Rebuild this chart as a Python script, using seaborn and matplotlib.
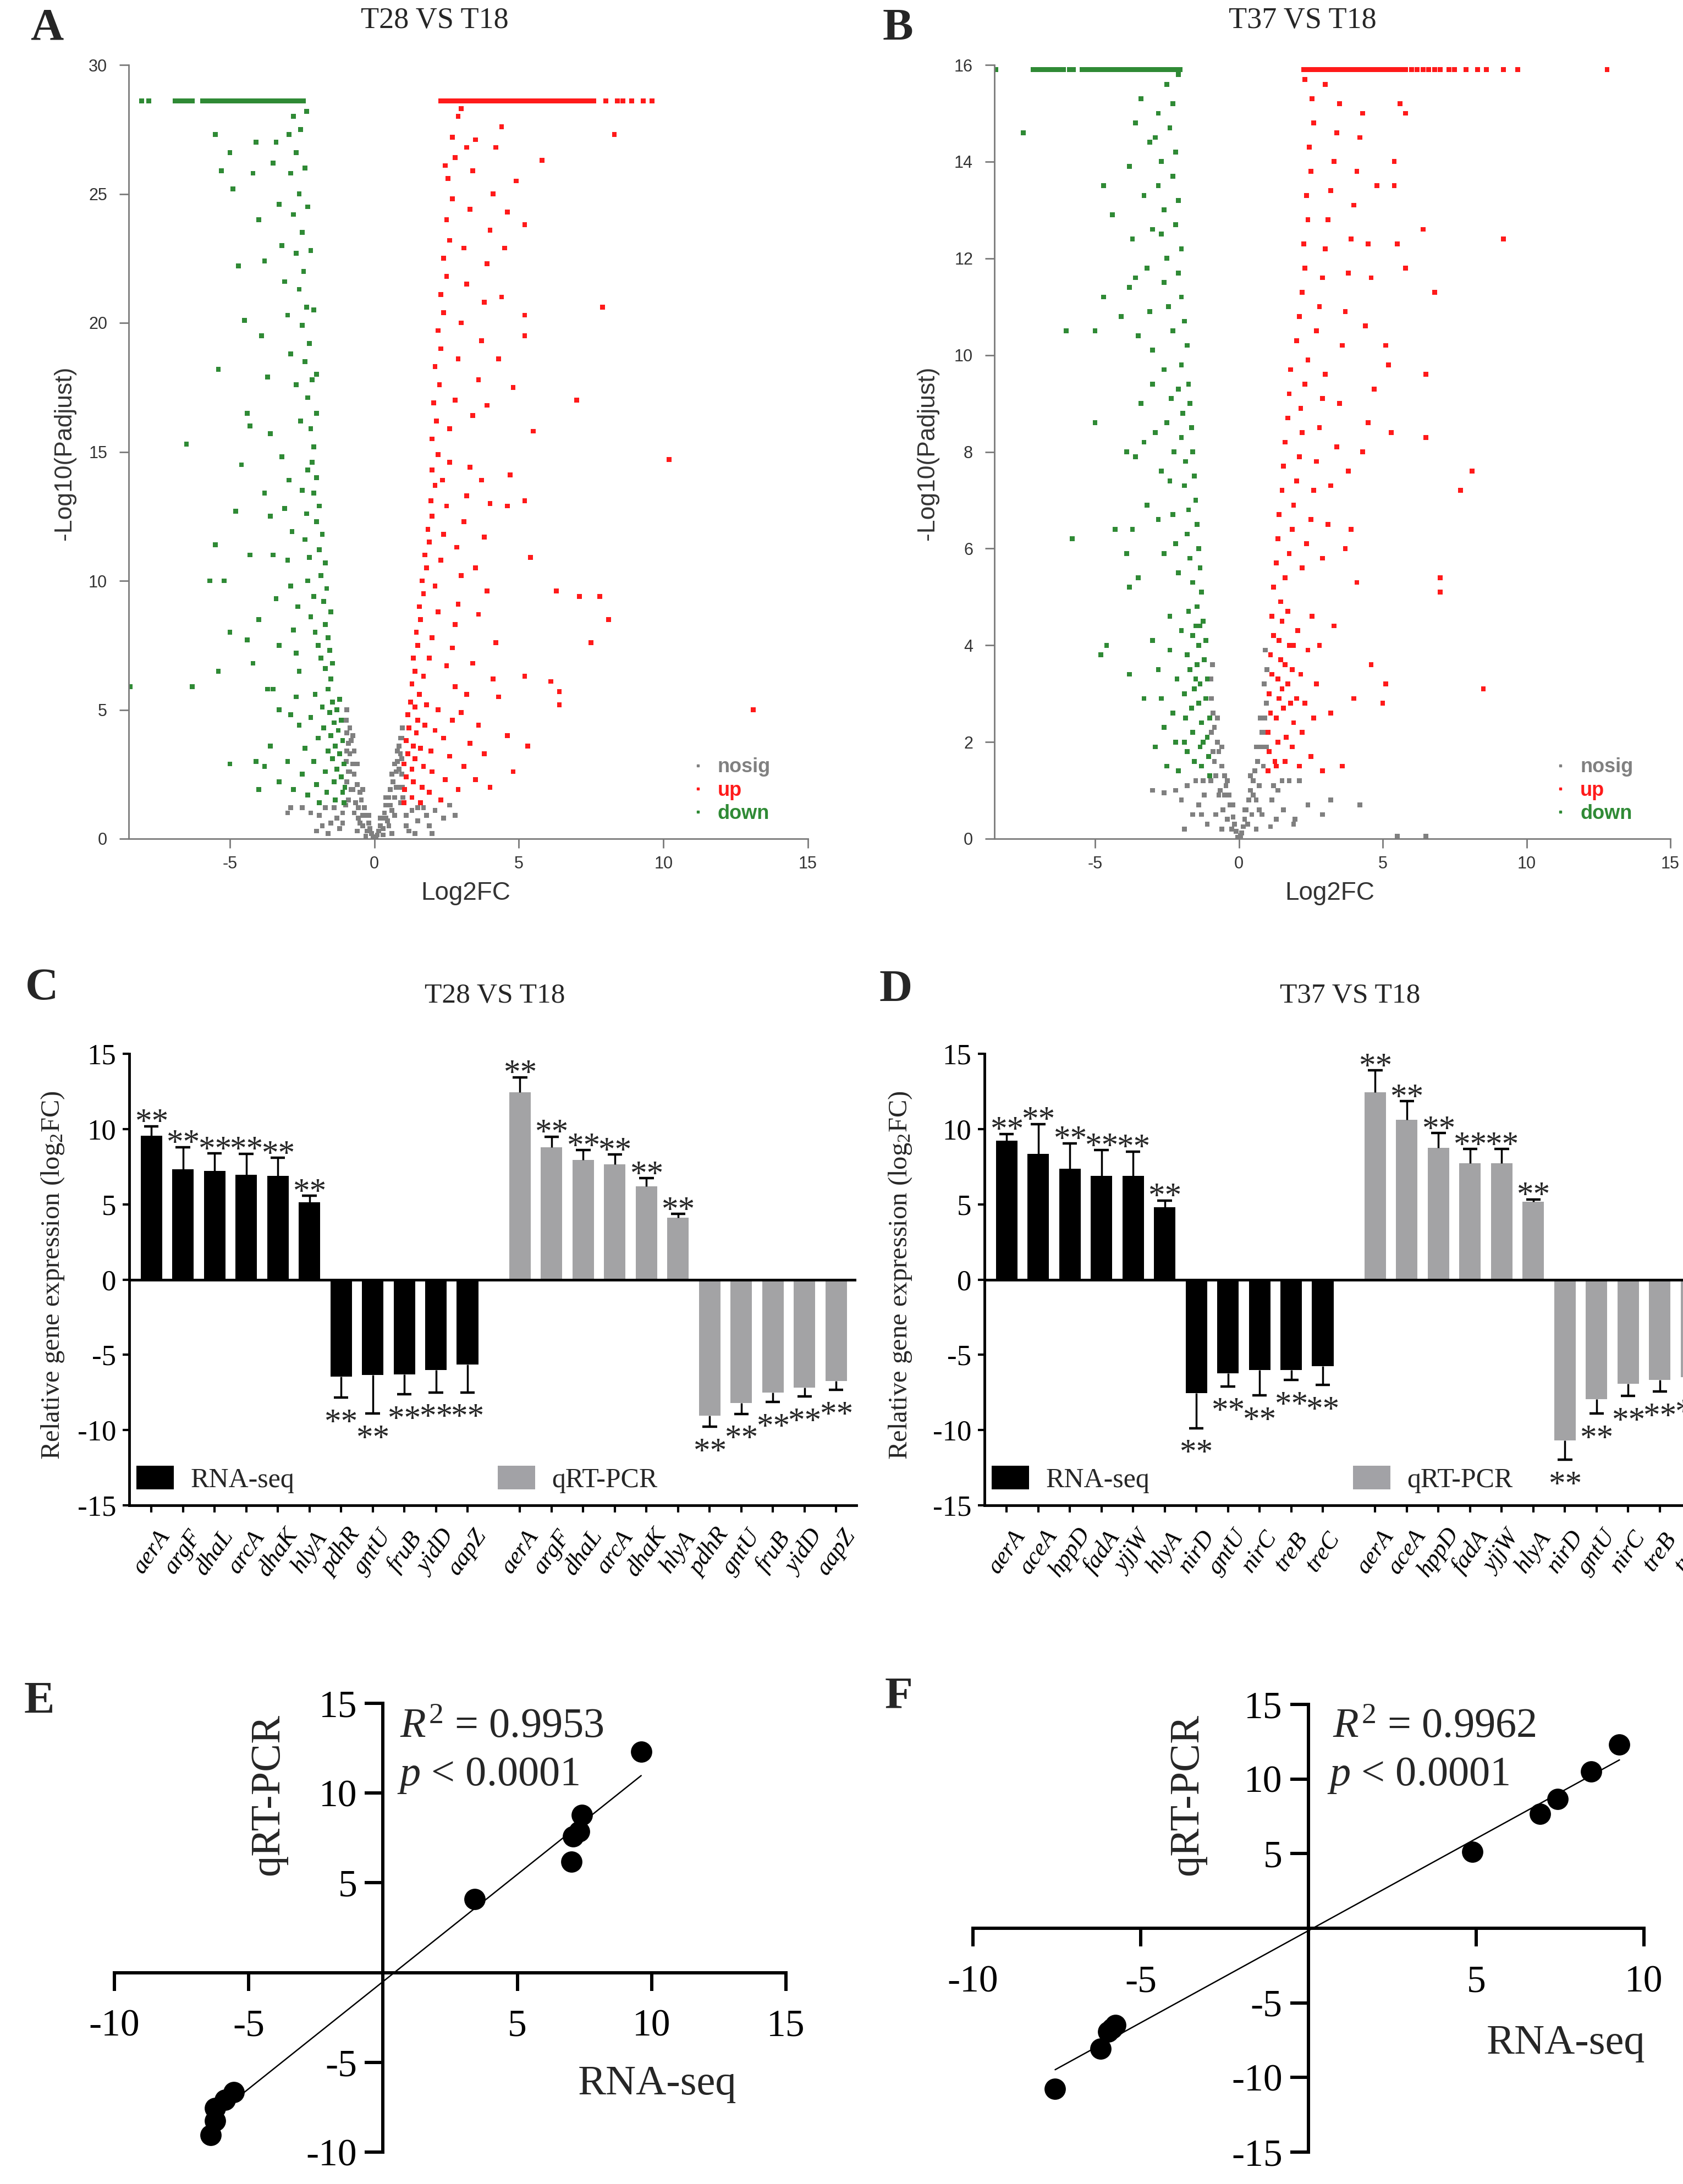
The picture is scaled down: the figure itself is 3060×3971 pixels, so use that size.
import numpy as np
import pandas as pd
import matplotlib
matplotlib.use("Agg")
import matplotlib.pyplot as plt
from matplotlib.lines import Line2D
from matplotlib.patches import Patch
from matplotlib.transforms import ScaledTranslation
import seaborn as sns

# ---------------- data ----------------
# volcano A: T28 VS T18, points as (log2FC, -log10 padj)
A_nosig = [(-0.05,0.05),(0.05,0.08),(-0.1,0.2),(0.1,0.15),(-0.15,0.4),(0.15,0.3),(-0.2,0.6),(0.2,0.5),
           (-0.25,0.3),(0.25,0.8),(-0.3,0.9),(0.3,0.4),(-0.35,1.2),(0.35,1.0),(-0.4,0.5),(0.4,1.3),
           (-0.45,1.5),(0.45,0.7),(-0.5,1.8),(0.5,1.6),(-0.55,0.8),(0.55,1.9),(-0.6,2.1),(0.6,1.1),
           (-0.65,1.4),(0.65,2.2),(-0.7,2.5),(0.7,1.6),(-0.75,2.9),(0.75,2.6),(-0.8,1.9),(0.8,3.0),
           (-0.85,3.3),(0.85,2.0),(-0.9,3.7),(0.9,3.3),(-0.95,4.1),(0.95,2.5),(-0.98,4.6),(-0.9,2.6),
           (-0.8,3.8),(0.85,3.6),(-0.97,3.0),(0.95,3.9),(-1.1,1.0),(1.1,0.9),(-1.3,0.8),(1.3,1.1),
           (-1.5,0.6),(1.5,0.7),(-1.7,1.2),(1.7,1.2),(-1.9,0.9),(1.9,0.5),(-2.2,1.0),(2.1,1.1),
           (-2.5,1.2),(2.4,0.8),(-2.9,1.2),(2.6,1.3),(-3.0,1.0),(-1.2,0.4),(1.2,0.3),(-0.6,0.3),
           (0.6,0.2),(-0.3,0.1),(0.3,0.15),(-1.6,0.2),(1.4,0.2),(-0.7,1.0),(0.7,0.9),(-0.5,0.6),
           (0.5,0.5),(-0.4,0.9),(0.4,0.8),(-0.9,1.5),(0.9,1.4),(-0.96,2.2),(0.97,2.0),(-0.75,4.0),
           (-0.95,5.0),(0.97,4.3),(-0.99,1.3),(0.99,1.6),(-2.0,0.3),(2.0,0.2),(-1.4,1.2),(1.5,1.2),
           (-0.2,0.9),(-0.4,1.9),(-0.6,2.9),(-0.7,3.4),(-0.85,4.3),(0.2,0.8),(0.4,1.6),(0.6,2.5),
           (0.7,2.9),(0.8,3.4),(0.9,3.9),(-0.55,1.2),(0.55,1.3),(-0.75,1.9),(0.75,2.0),(-0.85,2.6),
           (0.85,2.7),(-0.95,3.4),(0.95,3.1),(-1.1,0.6),(1.1,0.5),(-1.8,0.5),(1.8,0.9),(2.8,0.9)]
A_up = [(1.02,1.4),(1.05,1.9),(1.1,2.4),(1.02,2.9),(1.15,3.3),(1.1,3.8),(1.2,4.3),(1.15,4.8),(1.25,5.3),
        (1.3,1.6),(1.35,2.2),(1.3,2.7),(1.4,3.1),(1.35,3.6),(1.45,4.1),(1.5,4.6),(1.4,5.1),(1.55,5.6),
        (1.6,1.4),(1.65,2.0),(1.7,2.8),(1.6,3.5),(1.75,4.4),(1.8,5.2),(1.9,1.8),(2.0,2.6),(1.95,3.4),
        (2.1,4.2),(2.2,5.0),(2.3,1.5),(2.45,2.3),(2.6,3.2),(2.4,3.9),(2.7,4.6),(2.9,1.9),(3.1,2.8),
        (3.3,3.7),(3.0,4.9),(3.5,2.3),(3.8,3.3),(4.0,2.0),(3.6,4.4),(3.2,5.6),(2.8,5.9),(4.3,5.5),
        (1.3,6.0),(1.4,6.5),(1.35,7.0),(1.5,7.5),(1.45,8.0),(1.6,8.5),(1.55,9.0),(1.7,9.5),(1.65,10.0),
        (1.8,10.5),(1.75,11.0),(1.9,11.5),(1.85,12.0),(2.0,12.5),(1.95,13.1),(2.1,13.7),(2.0,14.3),
        (2.2,14.9),(1.7,6.3),(1.9,7.0),(2.0,7.8),(2.2,8.8),(2.1,9.8),(2.3,10.8),(2.4,11.8),(2.5,12.9),
        (2.35,13.9),(2.6,14.6),(2.5,6.7),(2.7,7.4),(2.8,8.3),(2.9,9.1),(3.0,10.2),(2.85,11.3),(3.1,12.3),
        (3.2,13.3),(3.3,14.4),(3.4,6.8),(3.6,8.7),(3.5,10.5),(3.8,11.7),(3.9,9.6),(4.0,13.0),(4.2,7.6),
        (4.1,6.2),(3.7,13.9),(2.0,15.5),(2.15,16.2),(2.05,16.9),(2.25,17.6),(2.1,18.3),(2.3,19.0),
        (2.2,19.7),(2.4,20.4),(2.3,21.1),(2.5,21.8),(2.4,22.5),(2.6,23.2),(2.5,24.0),(2.7,24.8),
        (2.55,25.6),(2.8,26.4),(2.7,27.2),(2.9,28.0),(2.6,15.9),(2.8,17.0),(2.9,18.6),(3.0,20.0),
        (3.2,21.5),(3.1,22.9),(3.3,24.4),(3.4,25.9),(3.5,27.1),(3.4,16.4),(3.6,17.8),(3.7,19.3),
        (3.8,20.8),(3.9,22.3),(4.0,23.6),(4.1,25.0),(4.2,26.8),(3.9,16.8),(4.3,18.6),(4.4,21.0),
        (4.5,22.9),(4.6,24.3),(4.4,27.6),(3.2,26.8),(2.45,26.1),(3.0,28.3),
        (10.2,14.7),(13.1,5.0),(8.3,27.3),(7.9,20.6),(7.0,17.0),(7.1,9.4),(7.8,9.4),(8.1,8.5),
        (7.5,7.6),(6.3,9.6),(6.4,5.2),(6.4,5.7),(6.1,6.1),(5.2,6.3),(5.3,3.6),(4.8,2.6),(4.6,4.0),
        (5.4,10.9),(5.2,13.1),(5.5,15.8),(5.2,19.5),(5.2,20.3),(5.2,23.8),(5.8,26.3),(4.8,17.5),
        (4.9,25.5),(4.7,14.1),(4.6,12.9)]
A_down = [(-1.05,1.4),(-1.1,1.8),(-1.02,2.0),(-1.15,2.4),(-1.05,2.9),(-1.2,3.3),(-1.1,3.8),(-1.25,4.2),
          (-1.15,4.6),(-1.3,5.0),(-1.2,5.4),(-1.35,1.5),(-1.4,2.2),(-1.3,2.7),(-1.45,3.1),(-1.35,3.6),
          (-1.5,4.0),(-1.4,4.5),(-1.55,4.9),(-1.45,5.3),(-1.6,5.8),(-1.5,6.2),(-1.65,1.8),(-1.7,2.6),
          (-1.6,3.4),(-1.75,4.3),(-1.8,5.1),(-1.7,6.6),(-1.85,7.0),(-1.9,1.4),(-2.0,2.1),(-2.1,3.0),
          (-1.95,3.9),(-2.2,4.7),(-2.05,5.6),(-2.3,1.7),(-2.5,2.5),(-2.4,3.5),(-2.6,4.4),(-2.8,1.9),
          (-3.0,3.0),(-2.9,4.8),(-3.3,2.2),(-3.6,3.6),(-3.8,2.8),(-4.0,1.9),(-4.1,3.0),(-5.0,2.9),
          (-3.5,5.8),(-3.3,5.0),(-2.7,5.5),(-1.45,6.8),(-1.55,7.3),(-1.6,7.8),(-1.7,8.3),(-1.5,8.8),
          (-1.75,9.2),(-1.65,9.7),(-1.85,10.2),(-1.7,10.7),(-1.9,11.2),(-1.8,11.8),(-2.0,12.3),
          (-1.9,12.9),(-2.1,13.4),(-2.0,14.0),(-2.15,14.6),(-1.95,7.5),(-2.05,8.0),(-2.2,8.6),
          (-2.1,9.4),(-2.3,10.0),(-2.25,10.9),(-2.4,11.6),(-2.35,12.6),(-2.5,13.5),(-2.3,14.3),
          (-2.6,6.5),(-2.7,7.2),(-2.8,8.1),(-2.65,9.0),(-2.9,9.8),(-3.0,10.8),(-2.85,11.9),(-3.1,12.8),
          (-2.95,13.9),(-3.2,14.8),(-3.3,7.5),(-3.4,9.3),(-3.5,11.0),(-3.6,12.5),(-3.8,13.4),(-4.0,8.5),
          (-4.3,11.0),(-4.4,7.7),(-5.0,8.0),(-5.2,10.0),(-5.5,11.4),(-5.7,10.0),(-4.6,14.5),(-4.8,12.7),
          (-6.5,15.3),(-6.3,5.9),(-8.45,5.9),(-5.4,6.5),(-4.2,6.8),(-3.7,5.8),(-2.1,15.2),(-2.2,15.9),
          (-2.0,16.5),(-2.3,17.1),(-2.15,17.8),(-2.4,18.5),(-2.25,19.2),(-2.5,19.9),(-2.35,20.6),
          (-2.6,21.3),(-2.45,22.0),(-2.7,22.7),(-2.5,23.5),(-2.8,24.2),(-2.6,25.0),(-2.9,25.8),
          (-2.7,26.6),(-2.95,27.3),(-2.8,28.0),(-2.55,16.2),(-2.7,17.6),(-2.9,18.8),(-3.0,20.3),
          (-3.1,21.6),(-3.2,23.0),(-3.3,24.6),(-3.5,26.2),(-3.4,27.0),(-3.6,15.7),(-3.7,17.9),
          (-3.9,19.5),(-3.8,22.4),(-4.0,24.0),(-4.2,25.8),(-4.1,27.0),(-4.4,16.5),(-4.5,20.1),
          (-4.7,22.2),(-4.9,25.2),(-5.0,26.6),(-5.3,25.9),(-5.5,27.3),(-5.4,18.2),(-4.3,16.0),
          (-2.4,26.0),(-2.3,24.5),(-2.2,22.8),(-2.1,20.5),(-2.0,18.0),(-2.35,28.2),(-2.55,27.5)]
A_cap_y = 28.6
A_cap_down = [-8.05, -7.8, -6.9, -6.8, -6.7, -6.6, -6.5, -6.4, -6.3, -5.95, -5.85, -5.75, -5.65, -5.55,
              -5.45, -5.35, -5.25, -5.15, -5.05, -4.95, -4.85, -4.75, -4.65, -4.55, -4.45, -4.35, -4.25,
              -4.15, -4.05, -3.95, -3.85, -3.75, -3.65, -3.55, -3.45, -3.35, -3.25, -3.15, -3.05, -2.95,
              -2.85, -2.75, -2.65, -2.55, -2.45]
A_cap_up = [2.3, 2.4, 2.5, 2.6, 2.7, 2.8, 2.9, 3.0, 3.1, 3.2, 3.3, 3.4, 3.5, 3.6, 3.7, 3.8, 3.9, 4.0,
            4.1, 4.2, 4.3, 4.4, 4.5, 4.6, 4.7, 4.8, 4.9, 5.0, 5.1, 5.2, 5.3, 5.4, 5.5, 5.6, 5.7, 5.8,
            5.9, 6.0, 6.1, 6.2, 6.3, 6.4, 6.5, 6.6, 6.7, 6.8, 6.9, 7.0, 7.15, 7.3, 7.45, 7.6, 8.0,
            8.4, 8.6, 8.9, 9.3, 9.6]

# volcano B: T37 VS T18
B_nosig = [(-0.05,0.03),(0.05,0.06),(-0.1,0.15),(0.1,0.12),(-0.15,0.3),(0.15,0.25),(-0.2,0.45),(0.2,0.4),
           (-0.25,0.2),(0.25,0.6),(-0.3,0.7),(0.3,0.3),(-0.35,0.9),(0.35,0.8),(-0.4,0.4),(0.4,1.0),
           (-0.45,1.1),(0.45,0.5),(-0.5,1.3),(0.5,1.2),(-0.55,0.6),(0.55,1.4),(-0.6,1.5),(0.6,0.8),
           (-0.65,1.0),(0.65,1.6),(-0.7,1.8),(0.7,1.1),(-0.75,2.0),(0.75,1.9),(-0.8,1.3),(0.8,2.2),
           (-0.85,2.3),(0.85,1.5),(-0.9,2.6),(0.9,2.5),(-0.95,2.9),(0.95,1.9),(-0.98,1.2),(0.95,2.8),
           (-0.9,1.8),(0.88,3.2),(-0.97,3.3),(0.98,3.5),(-1.2,0.9),(1.15,0.8),(-1.4,0.7),(1.35,1.0),
           (-1.6,0.5),(1.55,0.6),(-1.8,1.1),(1.75,1.2),(-2.0,0.8),(1.95,0.4),(-2.2,1.0),(2.1,1.2),
           (-2.6,0.95),(2.4,0.7),(-3.0,1.0),(2.9,0.5),(3.2,0.8),(4.2,0.7),(-1.1,0.3),(1.1,0.25),
           (-0.6,0.2),(0.6,0.2),(-1.5,1.2),(1.5,1.2),(-0.8,0.5),(0.8,0.5),(-1.25,1.2),(1.2,1.1),
           (-0.7,0.9),(0.7,0.6),(-1.9,0.2),(1.9,0.3),(6.5,0.05),(5.5,0.05),(-0.2,0.7),(-0.4,1.2),
           (-0.6,1.9),(-0.75,2.5),(-0.92,3.6),(0.2,0.6),(0.4,1.3),(0.6,1.9),(0.75,2.5),(0.92,3.9),
           (-0.5,0.9),(0.5,0.9),(-0.85,1.6),(0.85,1.9),(-0.95,2.2),(0.95,2.2),(-1.3,0.5),(1.3,0.4)]
B_up = [(1.02,1.4),(1.05,1.8),(1.02,2.2),(1.1,2.6),(1.05,3.0),(1.15,3.4),(1.1,3.8),(1.2,4.2),(1.15,4.6),
        (1.3,1.5),(1.35,2.0),(1.3,2.5),(1.4,2.9),(1.35,3.3),(1.45,3.7),(1.4,4.1),(1.5,4.5),(1.45,4.9),
        (1.6,1.6),(1.65,2.1),(1.55,2.7),(1.7,3.2),(1.6,3.6),(1.75,4.0),(1.7,4.7),(1.85,1.9),(1.9,2.4),
        (2.0,2.9),(1.85,3.5),(2.05,4.3),(2.1,1.5),(2.2,2.2),(2.3,2.8),(2.15,3.4),(2.4,3.9),(2.5,1.7),
        (2.6,2.5),(2.7,3.2),(2.8,4.0),(2.55,4.6),(3.2,2.6),(3.6,1.5),(4.0,2.9),(5.0,2.8),(5.1,3.2),
        (4.6,3.6),(3.3,4.4),(2.9,1.4),(1.2,5.2),(1.3,5.7),(1.35,6.2),(1.4,6.7),(1.5,7.2),(1.55,7.7),
        (1.6,8.2),(1.7,8.7),(1.75,9.2),(1.8,9.7),(1.6,5.4),(1.75,5.9),(1.85,6.4),(1.9,6.9),(2.0,7.4),
        (2.1,7.9),(2.2,8.4),(2.15,8.9),(2.3,9.4),(2.4,9.9),(2.2,5.6),(2.35,6.1),(2.5,6.6),(2.6,7.2),
        (2.7,7.8),(2.8,8.5),(2.9,9.1),(3.0,9.6),(2.9,5.8),(3.1,6.5),(3.2,7.3),(3.4,8.1),(3.5,9.0),
        (3.7,6.0),(3.9,6.4),(4.1,5.3),(3.8,7.6),(4.3,8.0),(4.5,8.6),(4.7,9.3),(5.3,8.4),(5.2,9.8),
        (6.5,9.6),(6.5,8.3),(7.7,7.2),(8.1,7.6),(7.0,5.4),(7.0,5.1),(2.0,10.3),(2.1,10.8),(2.2,11.3),
        (2.3,11.8),(2.25,12.3),(2.4,12.8),(2.35,13.3),(2.5,13.8),(2.45,14.3),(2.6,14.8),(2.55,15.3),
        (2.7,10.5),(2.8,11.0),(2.9,11.6),(3.0,12.2),(3.1,12.8),(3.2,13.4),(3.3,14.0),(3.4,14.6),
        (3.5,15.2),(3.6,10.2),(3.7,10.9),(3.8,11.7),(3.9,12.4),(4.0,13.1),(4.1,13.8),(4.2,14.5),
        (4.3,15.0),(4.4,10.6),(4.6,11.6),(4.5,12.3),(4.8,13.5),(5.1,10.2),(5.5,12.3),(5.4,13.5),
        (5.4,14.0),(5.6,15.2),(5.8,15.0),(5.8,11.8),(6.4,12.6),(6.8,11.3),(9.2,12.4),(2.3,15.7),
        (3.0,15.6),(8.5,3.1),(1.25,1.6),(1.5,3.1),(1.8,2.8),(1.9,4.0)]
B_down = [(-1.02,1.3),(-1.05,1.7),(-1.1,2.1),(-1.02,2.5),(-1.15,2.9),(-1.1,3.3),(-1.2,3.7),(-1.15,4.1),
          (-1.25,4.5),(-1.3,1.5),(-1.35,1.9),(-1.3,2.4),(-1.4,2.8),(-1.35,3.2),(-1.45,3.6),(-1.4,4.0),
          (-1.5,4.4),(-1.45,4.8),(-1.55,1.6),(-1.6,2.2),(-1.65,2.7),(-1.55,3.1),(-1.7,3.5),(-1.6,4.2),
          (-1.75,4.7),(-1.8,1.8),(-1.85,2.5),(-1.9,3.0),(-1.8,3.8),(-2.0,4.3),(-2.1,1.4),(-2.2,2.0),
          (-2.3,2.6),(-2.15,3.3),(-2.4,3.9),(-2.5,1.5),(-2.6,2.3),(-2.7,2.9),(-2.8,3.5),(-2.4,4.6),
          (-3.3,2.9),(-3.0,4.1),(-2.9,1.9),(-3.8,3.4),(-4.6,4.0),(-4.8,3.8),(-1.3,5.1),(-1.35,5.6),
          (-1.4,6.0),(-1.45,6.5),(-1.5,7.0),(-1.55,7.5),(-1.6,8.0),(-1.65,8.5),(-1.7,9.0),(-1.75,9.4),
          (-1.6,5.3),(-1.7,5.8),(-1.8,6.3),(-1.75,6.8),(-1.9,7.3),(-1.85,7.8),(-2.0,8.3),(-1.95,8.8),
          (-2.1,9.3),(-2.0,9.8),(-2.1,5.5),(-2.2,6.1),(-2.3,6.7),(-2.4,7.4),(-2.25,8.0),(-2.5,8.6),
          (-2.35,9.1),(-2.6,9.7),(-2.6,5.9),(-2.8,6.6),(-2.7,7.6),(-2.9,8.4),(-3.0,9.4),(-3.2,6.9),
          (-3.3,8.2),(-3.4,9.0),(-3.6,7.9),(-3.9,8.0),(-3.7,6.4),(-3.9,5.9),(-3.8,5.2),(-4.3,6.4),
          (-5.0,8.6),(-5.8,6.2),(-3.5,5.4),(-1.8,10.2),(-1.9,10.7),(-2.0,11.2),(-2.1,11.7),(-2.0,12.2),
          (-2.2,12.7),(-2.1,13.2),(-2.3,13.7),(-2.2,14.2),(-2.4,14.7),(-2.3,15.2),(-2.5,15.6),
          (-2.3,10.5),(-2.45,11.0),(-2.6,11.5),(-2.5,12.0),(-2.7,12.5),(-2.6,13.0),(-2.8,13.5),
          (-2.7,14.0),(-2.9,14.5),(-2.8,15.0),(-3.0,10.1),(-3.1,10.9),(-3.2,11.8),(-3.0,12.6),
          (-3.3,13.3),(-3.1,14.4),(-3.4,15.3),(-3.5,10.4),(-3.6,11.6),(-3.7,12.4),(-3.8,13.9),
          (-3.6,14.8),(-4.1,10.8),(-3.8,11.4),(-4.4,12.9),(-4.7,13.5),(-4.7,11.2),(-5.0,10.5),
          (-6.0,10.5),(-7.5,14.6),(-2.1,15.8),(-1.25,2.0),(-1.5,3.3),(-1.9,2.0),(-1.35,4.4)]
B_cap_y = 15.9
B_cap_down = [-8.45, -7.15, -7.0, -6.85, -6.7, -6.55, -6.4, -6.25, -6.1, -5.9, -5.75, -5.45, -5.35,
              -5.25, -5.15, -5.05, -4.95, -4.85, -4.75, -4.65, -4.55, -4.45, -4.35, -4.25, -4.15, -4.05,
              -3.95, -3.85, -3.75, -3.65, -3.55, -3.45, -3.35, -3.25, -3.15, -3.05, -2.95, -2.85, -2.75,
              -2.65, -2.55, -2.45, -2.35, -2.25, -2.15, -2.05]
B_cap_up = [2.25, 2.35, 2.45, 2.55, 2.65, 2.75, 2.85, 2.95, 3.05, 3.15, 3.25, 3.35, 3.45, 3.55, 3.65,
            3.75, 3.85, 3.95, 4.05, 4.15, 4.25, 4.35, 4.45, 4.55, 4.65, 4.75, 4.85, 4.95, 5.05, 5.15,
            5.25, 5.35, 5.45, 5.55, 5.65, 5.8, 6.0, 6.2, 6.4, 6.6, 6.8, 7.0, 7.3, 7.5, 7.9, 8.3, 8.6,
            9.2, 9.7, 12.8]

# bar panels C / D (bar value and end of the error bar)
genes_C = ['aerA', 'argF', 'dhaL', 'arcA', 'dhaK', 'hlyA', 'pdhR', 'gntU', 'fruB', 'yidD', 'aapZ']
C_rna = [9.54, 7.33, 7.2, 6.95, 6.9, 5.15, -6.45, -6.35, -6.3, -6.0, -5.65]
C_rna_err = [10.18, 8.8, 8.38, 8.36, 8.08, 5.56, -7.85, -8.9, -7.62, -7.5, -7.5]
C_qpcr = [12.44, 8.77, 7.95, 7.64, 6.2, 4.1, -9.05, -8.22, -7.52, -7.17, -6.75]
C_qpcr_err = [13.44, 9.5, 8.6, 8.31, 6.74, 4.35, -9.78, -8.92, -8.13, -7.78, -7.33]

genes_D = ['aerA', 'aceA', 'hppD', 'fadA', 'yjjW', 'hlyA', 'nirD', 'gntU', 'nirC', 'treB', 'treC']
D_rna = [9.23, 8.36, 7.36, 6.87, 6.87, 4.82, -7.56, -6.23, -6.0, -6.0, -5.77]
D_rna_err = [9.67, 10.33, 9.05, 8.59, 8.5, 5.26, -9.87, -7.1, -7.69, -6.67, -7.0]
D_qpcr = [12.44, 10.62, 8.74, 7.74, 7.74, 5.18, -10.69, -7.95, -6.92, -6.67, -6.5]
D_qpcr_err = [13.9, 11.85, 9.74, 8.67, 8.67, 5.33, -11.97, -8.9, -7.74, -7.44, -7.2]

# correlation panels E / F
E_rna = [9.61, 7.41, 7.31, 7.08, 7.02, 3.42, -5.56, -5.89, -6.25, -6.25, -6.41]
E_qpcr = [12.3, 8.78, 7.87, 7.58, 6.17, 4.09, -6.65, -7.1, -7.55, -8.24, -9.04]
F_rna = [9.27, 8.42, 7.43, 6.9, 4.89, -7.55, -6.2, -5.96, -5.75, -5.85]
F_qpcr = [12.3, 10.5, 8.67, 7.66, 5.12, -10.75, -8.07, -6.92, -6.5, -6.7]

# ---------------- style ----------------
sns.set_theme(style="ticks")
SERIF = ['Liberation Serif', 'DejaVu Serif']
SANS = ['Liberation Sans', 'DejaVu Sans']
plt.rcParams['font.family'] = SERIF
plt.rcParams['mathtext.fontset'] = 'custom'
plt.rcParams['mathtext.rm'] = 'Liberation Serif'
plt.rcParams['mathtext.it'] = 'Liberation Serif:italic'
plt.rcParams['mathtext.bf'] = 'Liberation Serif:bold'
plt.rcParams['axes.unicode_minus'] = False

VOLC_PAL = {'nosig': '#808080', 'up': '#ff1a1a', 'down': '#2f8a35'}
BAR_PAL = {'RNA-seq': '#000000', 'qRT-PCR': '#a2a2a6'}
GAP = 11.66   # offset of the qRT-PCR group on the bar axis

W, H = 3060, 3971
fig = plt.figure(figsize=(W / 100, H / 100), dpi=100)


def px_box(x0, y0, x1, y1):
    return [x0 / W, 1 - y1 / H, (x1 - x0) / W, (y1 - y0) / H]


def ftext(x, y, s, **kw):
    fig.text(x / W, 1 - y / H, s, **kw)


def volcano(ax, nosig, up, down, cap_y, cap_down, cap_up, ymax, ystep):
    rows = [(x, y, 'nosig') for x, y in nosig]
    rows += [(x, y, 'up') for x, y in up] + [(x, cap_y, 'up') for x in cap_up]
    rows += [(x, y, 'down') for x, y in down] + [(x, cap_y, 'down') for x in cap_down]
    df = pd.DataFrame(rows, columns=['log2fc', 'padj', 'group'])
    sns.scatterplot(data=df, x='log2fc', y='padj', hue='group', palette=VOLC_PAL,
                    marker='s', s=40, linewidth=0, legend=False, ax=ax)
    ax.set_xlim(-8.5, 15)
    ax.set_ylim(0, ymax)
    ax.set_xticks([-5, 0, 5, 10, 15])
    ax.set_yticks(np.arange(0, ymax + 0.1, ystep))
    ax.set_xlabel('')
    ax.set_ylabel('')
    sns.despine(ax=ax)
    for s in ['left', 'bottom']:
        ax.spines[s].set_color('#7a7a7a')
        ax.spines[s].set_linewidth(2)
    ax.tick_params(axis='both', colors='#7a7a7a', width=2, length=12, labelcolor='#333333',
                   labelsize=22)
    ax.tick_params(axis='y', pad=16)
    ax.tick_params(axis='x', pad=10)
    for lab in ax.get_xticklabels() + ax.get_yticklabels():
        lab.set_family(SANS)
    handles = [Line2D([], [], ls='', marker='s', ms=3, color=VOLC_PAL[k]) for k in VOLC_PAL]
    ax.legend(handles, list(VOLC_PAL), loc='lower right', bbox_to_anchor=(0.945, 0.02),
              frameon=False, handlelength=1.0, handletextpad=0.5, labelspacing=0.2,
              borderpad=0, borderaxespad=0, labelcolor=list(VOLC_PAL.values()),
              prop={'family': SANS, 'weight': 'bold', 'size': 26})


def bars(ax, genes, rna, rna_err, qpcr, qpcr_err):
    n = len(genes)
    pos = list(np.arange(n)) + list(np.arange(n) + GAP)
    vals = rna + qpcr
    ends = rna_err + qpcr_err
    df = pd.DataFrame({'pos': pos, 'value': vals, 'method': ['RNA-seq'] * n + ['qRT-PCR'] * n})
    sns.barplot(data=df, x='pos', y='value', hue='method', palette=BAR_PAL, native_scale=True,
                dodge=False, width=0.68, errorbar=None, linewidth=0, legend=False, ax=ax)
    ax.vlines(pos, vals, ends, color='black', lw=2.5, zorder=3)
    ax.hlines(ends, np.array(pos) - 0.23, np.array(pos) + 0.23, color='black', lw=3.2, zorder=3)
    for x, e in zip(pos, ends):
        y = e - 0.35 if e > 0 else e - 2.25
        ax.text(x, y, '**', ha='center', va='baseline', fontsize=44, family=SERIF)
    ax.axhline(0, color='black', lw=3.5, zorder=4)
    ax.set_xlim(-0.7, 22.3)
    ax.set_ylim(-15, 15)
    ax.set_yticks([-15, -10, -5, 0, 5, 10, 15])
    ax.set_xticks(pos)
    ax.set_xticklabels(genes + genes, rotation=55, ha='center', va='center',
                       rotation_mode='anchor', fontsize=32, style='italic', family=SERIF)
    shift = ScaledTranslation(-0.33, 0, fig.dpi_scale_trans)
    for lab in ax.get_xticklabels():
        lab.set_transform(lab.get_transform() + shift)
    ax.set_xlabel('')
    ax.set_ylabel('')
    sns.despine(ax=ax)
    for s in ['left', 'bottom']:
        ax.spines[s].set_color('black')
        ax.spines[s].set_linewidth(3.5)
    ax.tick_params(axis='both', colors='black', width=3, length=9)
    ax.tick_params(axis='y', labelsize=38, pad=8)
    ax.tick_params(axis='x', pad=52)
    for lab in ax.get_yticklabels():
        lab.set_family(SERIF)
    handles = [Patch(facecolor=BAR_PAL[k], edgecolor='none') for k in BAR_PAL]
    ax.legend(handles, list(BAR_PAL), loc='center left', bbox_to_anchor=(0.01, 0.057), ncol=2,
              frameon=False, handlelength=1.36, handleheight=0.94, handletextpad=0.6,
              columnspacing=7.4, borderpad=0, borderaxespad=0,
              prop={'family': SERIF, 'size': 36})


def corr(ax, x, y, xlim, ylim, xt, yt):
    sns.regplot(x=np.array(x), y=np.array(y), ci=None, color='black', ax=ax,
                scatter_kws={'s': 780, 'linewidths': 0, 'alpha': 1},
                line_kws={'lw': 1.8})
    ax.set_xlim(*xlim)
    ax.set_ylim(*ylim)
    ax.spines['left'].set_position(('data', 0))
    ax.spines['bottom'].set_position(('data', 0))
    ax.spines['top'].set_visible(False)
    ax.spines['right'].set_visible(False)
    for s in ['left', 'bottom']:
        ax.spines[s].set_linewidth(4.3)
        ax.spines[s].set_color('black')
    ax.set_xticks(xt)
    ax.set_yticks(yt)
    ax.tick_params(axis='both', colors='black', width=4.3, length=24, labelsize=50)
    ax.tick_params(axis='x', pad=24)
    ax.tick_params(axis='y', pad=10)
    for lab in ax.get_xticklabels() + ax.get_yticklabels():
        lab.set_family(SERIF)
    ax.set_xlabel('')
    ax.set_ylabel('')


# ---------------- A / B ----------------
axA = fig.add_axes(px_box(234, 118, 1469, 1525))
volcano(axA, A_nosig, A_up, A_down, A_cap_y, A_cap_down, A_cap_up, 30, 5)
axB = fig.add_axes(px_box(1808, 118, 3037, 1525))
volcano(axB, B_nosig, B_up, B_down, B_cap_y, B_cap_down, B_cap_up, 16, 2)

ftext(790, 38, 'T28 VS T18', ha='center', va='center', fontsize=39, family=SERIF)
ftext(2368, 38, 'T37 VS T18', ha='center', va='center', fontsize=39, family=SERIF)
for xc in [847, 2418]:
    ftext(xc, 1624, 'Log2FC', ha='center', va='center', fontsize=33, family=SANS, color='#333333')
for xc in [117, 1686]:
    ftext(xc, 824, '-Log10(Padjust)', ha='center', va='center', rotation=90, fontsize=32,
          family=SANS, color='#333333')

# ---------------- C / D ----------------
axC = fig.add_axes(px_box(235, 1916, 1557, 2737))
bars(axC, genes_C, C_rna, C_rna_err, C_qpcr, C_qpcr_err)
axD = fig.add_axes(px_box(1790, 1916, 3112, 2737))
bars(axD, genes_D, D_rna, D_rna_err, D_qpcr, D_qpcr_err)

ftext(900, 1811, 'T28 VS T18', ha='center', va='center', fontsize=37, family=SERIF)
ftext(2455, 1811, 'T37 VS T18', ha='center', va='center', fontsize=37, family=SERIF)
for xc in [96, 1637]:
    ftext(xc, 2319, 'Relative gene expression (log$_2$FC)', ha='center', va='center',
          rotation=90, fontsize=35, family=SERIF)

# ---------------- E / F ----------------
axE = fig.add_axes(px_box(208, 3097, 1429, 3913))
corr(axE, E_rna, E_qpcr, (-10, 15), (-10, 15), [-10, -5, 5, 10, 15], [-10, -5, 5, 10, 15])
axF = fig.add_axes(px_box(1769, 3099, 2989, 3913))
corr(axF, F_rna, F_qpcr, (-10, 10), (-15, 15), [-10, -5, 5, 10], [-15, -10, -5, 5, 10, 15])

ftext(727, 3140, r'$R^{2}$ = 0.9953', ha='left', va='center', fontsize=55, family=SERIF)
ftext(722, 3229, '$p$ < 0.0001', ha='left', va='center', fontsize=55, family=SERIF)
ftext(2423, 3140, r'$R^{2}$ = 0.9962', ha='left', va='center', fontsize=55, family=SERIF)
ftext(2413, 3229, '$p$ < 0.0001', ha='left', va='center', fontsize=55, family=SERIF)
ftext(488, 3263, 'qRT-PCR', ha='center', va='center', rotation=90, fontsize=55, family=SERIF)
ftext(2159, 3263, 'qRT-PCR', ha='center', va='center', rotation=90, fontsize=55, family=SERIF)
ftext(1195, 3790, 'RNA-seq', ha='center', va='center', fontsize=55, family=SERIF)
ftext(2847, 3715, 'RNA-seq', ha='center', va='center', fontsize=55, family=SERIF)

# ---------------- panel letters ----------------
for letter, xc, yc in [('A', 85, 52), ('B', 1632, 53), ('C', 76, 1798), ('D', 1629, 1800),
                       ('E', 71, 3095), ('F', 1634, 3086)]:
    ftext(xc, yc, letter, ha='center', va='center', fontsize=60, weight='bold', family=SERIF)

fig.savefig('out.png', dpi=100)
